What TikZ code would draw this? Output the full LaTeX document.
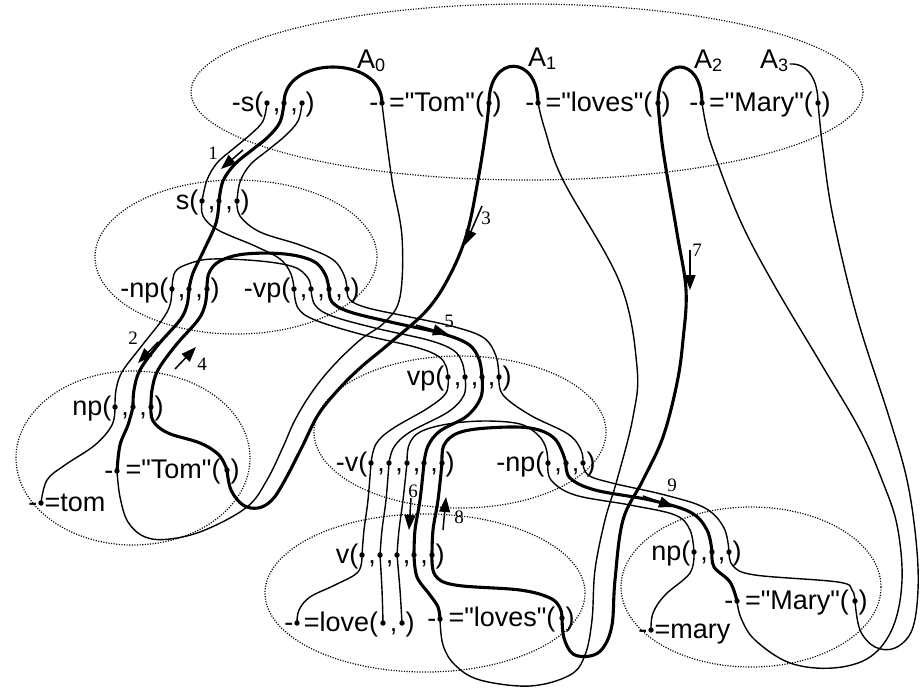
\documentclass[tikz,border=0pt]{standalone}
\usepackage{fontspec}
\setmainfont{Liberation Sans}[Ligatures=TeXOff]
\newfontfamily\numfont{Liberation Serif}
\usetikzlibrary{calc,arrows.meta}

\tikzset{
  lbl/.style={inner sep=0pt, font=\fontsize{27}{30}\selectfont},
  num/.style={inner sep=0pt, font=\numfont\fontsize{19}{21}\selectfont},
  wire/.style={line width=1.4pt, line cap=round, line join=round},
  heavy/.style={line width=3.1pt, line cap=round, line join=round},
  zone/.style={line width=1.2pt, dash pattern=on 1.1pt off 1.5pt},
  flow/.style={line width=1.5pt, -{Triangle[length=15pt,width=11pt]}},
}

% text placed just before, just after, or between argument dots
\newcommand\lbpre[3]{\node[lbl,anchor=base east] (#1) at ($(#2)+(-3.5,8)$) {#3};}
\newcommand\lbpost[3]{\node[lbl,anchor=base west] (#1) at ($(#2)+(3.5,8)$) {#3};}
\newcommand\lbmid[4]{\node[lbl,anchor=base] (#1) at ($(#2)!.5!(#3)+(1,8)$) {#4};}
% a smooth strand through a list of points
\newcommand\strand[2]{\draw[#1] plot[smooth,tension=.6] coordinates {#2};}
% a numbered step arrow
\newcommand\steparrow[5]{%
  \coordinate (#1s) at (#2); \coordinate (#1e) at (#3);
  \draw[flow] (#1s) -- (#1e);
  \node[num] (#1n) at (#4) {#5};}

\begin{document}
\begin{tikzpicture}[x=1pt,y=-1pt]
\fill[white] (0,0) rectangle (920,689);
\useasboundingbox (0,0) rectangle (920,689);

% ---- clause zones ----
\draw[zone] (527,92) ellipse [x radius=336, y radius=88];
\draw[zone] (236,257) ellipse [x radius=141, y radius=77];
\draw[zone] (133,458) ellipse [x radius=117, y radius=87];
\draw[zone] (460,432) ellipse [x radius=146, y radius=76];
\draw[zone] (425,593) ellipse [x radius=160, y radius=79];
\draw[zone] (751,587) ellipse [x radius=130, y radius=80];

% ---- argument ports ----
\coordinate (S1) at (267,103); \coordinate (S2) at (284,103); \coordinate (S3) at (302,103);
\coordinate (TA) at (382,103); \coordinate (TB) at (489,103);
\coordinate (LA) at (538,103); \coordinate (LB) at (658,103);
\coordinate (MA) at (702,103); \coordinate (MB) at (818,103);
\coordinate (s1) at (202,201); \coordinate (s2) at (219,201); \coordinate (s3) at (237,201);
\coordinate (na1) at (172,289); \coordinate (na2) at (189,289); \coordinate (na3) at (207,289);
\coordinate (va1) at (294,289); \coordinate (va2) at (311,289); \coordinate (va3) at (329,289); \coordinate (va4) at (347,289);
\coordinate (nh1) at (115,407); \coordinate (nh2) at (133,407); \coordinate (nh3) at (151,407);
\coordinate (ta) at (117,471); \coordinate (tb) at (227,470);
\coordinate (tm) at (41,503);
\coordinate (vh1) at (448,377); \coordinate (vh2) at (465,377); \coordinate (vh3) at (482,377); \coordinate (vh4) at (499,377);
\coordinate (vg1) at (371,463); \coordinate (vg2) at (389,463); \coordinate (vg3) at (407,463); \coordinate (vg4) at (424,463); \coordinate (vg5) at (442,463);
\coordinate (nb1) at (548,463); \coordinate (nb2) at (566,463); \coordinate (nb3) at (583,463);
\coordinate (wh1) at (362,555); \coordinate (wh2) at (380,555); \coordinate (wh3) at (397,555); \coordinate (wh4) at (414,555); \coordinate (wh5) at (432,555);
\coordinate (lv0) at (297,623); \coordinate (lv1) at (383,623); \coordinate (lv2) at (402,623);
\coordinate (la) at (440,619); \coordinate (lb) at (562,618);
\coordinate (mh1) at (694,552); \coordinate (mh2) at (712,552); \coordinate (mh3) at (729,552);
\coordinate (ma) at (737,601); \coordinate (mb) at (855,601);
\coordinate (my) at (651,630);

% ---- position labels ----
\node[lbl,anchor=base west] (A0) at (357,68) {A\raisebox{-3pt}{\fontsize{18}{20}\selectfont 0}};
\node[lbl,anchor=base west] (A1) at (528,66) {A\raisebox{-3pt}{\fontsize{18}{20}\selectfont 1}};
\node[lbl,anchor=base west] (A2) at (694,68) {A\raisebox{-3pt}{\fontsize{18}{20}\selectfont 2}};
\node[lbl,anchor=base west] (A3) at (760,68) {A\raisebox{-3pt}{\fontsize{18}{20}\selectfont 3}};
\coordinate (a3t) at (790,64);

% ---- top-level arcs ----
\draw[heavy] (S2) .. controls (284,55) and (382,55) .. (TA);
\draw[heavy] (TB) .. controls (489,54) and (538,54) .. (LA);
\draw[heavy] (LB) .. controls (658,55) and (702,55) .. (MA);
\draw[wire] (a3t) .. controls (808,63) and (818,80) .. (MB);

% ---- query to s clause ----
\strand{wire}{(S1) (263,121) (251,134) (233,149) (217,163) (207,180) (s1)}
\strand{heavy}{(S2) (280,122) (268,137) (252,150) (235,164) (223,181) (s2)}
\strand{wire}{(S3) (298,121) (285,136) (268,150) (250,165) (240,182) (s3)}

% ---- s clause body ----
\strand{wire}{(s1) (203,216) (218,230) (255,246) (280,259) (291,274) (va1)}
\strand{heavy}{(s2) (216,223) (204,250) (193,273) (na2)}
\strand{wire}{(s3) (240,216) (260,232) (300,245) (332,259) (344,275) (va4)}
\strand{wire}{(na1) (175,272) (188,264) (212,259) (260,261) (294,267) (308,278) (va2)}
\strand{heavy}{(na3) (209,273) (220,261) (245,254) (285,254) (313,261) (325,274) (va3)}

% ---- -vp to vp clause ----
\strand{wire}{(va1) (298,308) (315,320) (360,334) (415,347) (438,356) (446,366) (vh1)}
\strand{wire}{(va2) (315,305) (332,316) (375,328) (428,340) (453,350) (462,362) (vh2)}
\strand{heavy}{(va3) (332,302) (350,312) (395,323) (440,333) (468,344) (479,359) (vh3)}
\strand{wire}{(va4) (350,300) (368,308) (410,317) (455,327) (484,338) (496,356) (vh4)}

% ---- -np to np clause (Tom) ----
\strand{wire}{(na1) (170,305) (162,320) (140,348) (122,372) (116,390) (nh1)}
\strand{heavy}{(na2) (187,305) (180,320) (158,345) (140,370) (134,390) (nh2)}
\strand{heavy}{(na3) (205,305) (198,320) (176,345) (158,370) (152,390) (nh3)}
\strand{wire}{(nh1) (112,425) (95,445) (65,465) (47,480) (tm)}
\strand{heavy}{(nh2) (128,425) (120,445) (ta)}
\strand{heavy}{(nh3) (153,421) (168,433) (200,443) (219,455) (tb)}

% ---- word links A0, A1 ----
\strand{heavy}{(tb) (231,490) (243,505) (258,508) (272,500) (285,480) (302,447) (318,415) (338,390) (360,368) (390,343) (427,310) (450,275) (467,233) (478,180) (486,130) (TB)}
\strand{wire}{(TA) (384,120) (392,180) (402,237) (400,297) (385,322) (360,340) (333,366) (312,392) (295,420) (283,447) (267,480) (247,507) (205,530) (170,539) (145,537) (128,522) (120,497) (ta)}

% ---- word links A1, A2, A3 on the right ----
\strand{wire}{(LA) (545,130) (563,180) (620,283) (637,367) (633,417) (617,480) (605,520) (595,570) (592,620) (585,655) (570,675) (530,686) (480,680) (455,665) (443,645) (la)}
\strand{heavy}{(LB) (663,150) (677,233) (686,290) (683,340) (677,383) (663,437) (643,480) (623,520) (615,580) (612,625) (603,648) (590,656) (573,654) (564,638) (lb)}
\strand{wire}{(MA) (706,125) (713,150) (740,220) (773,283) (823,367) (860,430) (882,480) (897,525) (902,580) (893,627) (870,657) (833,668) (790,663) (755,640) (741,618) (ma)}
\strand{wire}{(MB) (823,150) (833,217) (857,317) (890,420) (907,480) (916,540) (918,590) (912,630) (895,648) (875,647) (860,630) (mb)}

% ---- vp clause body ----
\strand{wire}{(vh1) (446,393) (428,408) (392,429) (376,444) (vg1)}
\strand{wire}{(vh2) (464,395) (448,412) (410,432) (394,447) (vg2)}
\strand{heavy}{(vh3) (481,397) (467,416) (440,431) (428,446) (vg4)}
\strand{wire}{(vh4) (503,395) (530,415) (568,434) (581,450) (nb3)}
\strand{wire}{(vg3) (409,445) (420,432) (448,424) (485,421) (520,424) (538,435) (546,448) (nb1)}
\strand{heavy}{(vg5) (444,445) (458,433) (487,428) (530,428) (555,439) (nb2)}

% ---- -v to v clause ----
\strand{wire}{(vg1) (368,500) (364,530) (wh1)}
\strand{wire}{(vg2) (386,500) (382,530) (wh2)}
\strand{wire}{(vg3) (403,500) (399,530) (wh3)}
\strand{heavy}{(vg4) (420,500) (415,530) (wh4)}
\strand{heavy}{(vg5) (438,500) (433,530) (wh5)}
\strand{wire}{(wh1) (358,572) (335,585) (310,597) (299,610) (lv0)}
\strand{wire}{(wh2) (382,590) (lv1)}
\strand{wire}{(wh3) (400,590) (lv2)}
\strand{heavy}{(wh4) (417,577) (430,595) (438,607) (la)}
\strand{heavy}{(wh5) (435,575) (455,585) (520,590) (550,598) (560,608) (lb)}

% ---- -np to np clause (Mary) ----
\strand{wire}{(nb1) (551,480) (575,495) (630,505) (675,515) (690,530) (mh1)}
\strand{heavy}{(nb2) (570,478) (595,490) (650,500) (690,512) (707,530) (mh2)}
\strand{wire}{(nb3) (588,475) (612,483) (665,495) (705,508) (724,528) (mh3)}
\strand{wire}{(mh1) (690,573) (665,595) (653,613) (my)}
\strand{heavy}{(mh2) (714,567) (730,582) (ma)}
\strand{wire}{(mh3) (733,566) (755,575) (838,582) (852,590) (mb)}

% ---- ports ----
\foreach \p in {S1,S2,S3,TA,TB,LA,LB,MA,MB,s1,s2,s3,na1,na2,na3,va1,va2,va3,va4,
  nh1,nh2,nh3,ta,tb,tm,vh1,vh2,vh3,vh4,vg1,vg2,vg3,vg4,vg5,nb1,nb2,nb3,
  wh1,wh2,wh3,wh4,wh5,lv0,lv1,lv2,la,lb,mh1,mh2,mh3,ma,mb,my}
  \fill (\p) circle (2.7pt);

% ---- clause texts ----
\lbpre{tS}{S1}{-s(} \lbmid{tSc1}{S1}{S2}{,} \lbmid{tSc2}{S2}{S3}{,} \lbpost{tSe}{S3}{)}
\lbpre{tTm}{TA}{-} \lbmid{tTw}{TA}{TB}{="Tom"(} \lbpost{tTe}{TB}{)}
\lbpre{tLm}{LA}{-} \lbmid{tLw}{LA}{LB}{="loves"(} \lbpost{tLe}{LB}{)}
\lbpre{tMm}{MA}{-} \lbmid{tMw}{MA}{MB}{="Mary"(} \lbpost{tMe}{MB}{)}

\lbpre{ts}{s1}{s(} \lbmid{tsc1}{s1}{s2}{,} \lbmid{tsc2}{s2}{s3}{,} \lbpost{tse}{s3}{)}

\lbpre{tna}{na1}{-np(} \lbmid{tnac1}{na1}{na2}{,} \lbmid{tnac2}{na2}{na3}{,} \lbpost{tnae}{na3}{)}
\lbpre{tva}{va1}{-vp(} \lbmid{tvac1}{va1}{va2}{,} \lbmid{tvac2}{va2}{va3}{,} \lbmid{tvac3}{va3}{va4}{,} \lbpost{tvae}{va4}{)}

\lbpre{tnh}{nh1}{np(} \lbmid{tnhc1}{nh1}{nh2}{,} \lbmid{tnhc2}{nh2}{nh3}{,} \lbpost{tnhe}{nh3}{)}
\lbpre{ttm}{ta}{-} \lbmid{ttw}{ta}{tb}{="Tom"(} \lbpost{tte}{tb}{)}
\lbpre{ttm0}{tm}{-} \lbpost{ttom}{tm}{=tom}

\lbpre{tvh}{vh1}{vp(} \lbmid{tvhc1}{vh1}{vh2}{,} \lbmid{tvhc2}{vh2}{vh3}{,} \lbmid{tvhc3}{vh3}{vh4}{,} \lbpost{tvhe}{vh4}{)}
\lbpre{tvg}{vg1}{-v(} \lbmid{tvgc1}{vg1}{vg2}{,} \lbmid{tvgc2}{vg2}{vg3}{,} \lbmid{tvgc3}{vg3}{vg4}{,} \lbmid{tvgc4}{vg4}{vg5}{,} \lbpost{tvge}{vg5}{)}
\lbpre{tnb}{nb1}{-np(} \lbmid{tnbc1}{nb1}{nb2}{,} \lbmid{tnbc2}{nb2}{nb3}{,} \lbpost{tnbe}{nb3}{)}

\lbpre{twh}{wh1}{v(} \lbmid{twhc1}{wh1}{wh2}{,} \lbmid{twhc2}{wh2}{wh3}{,} \lbmid{twhc3}{wh3}{wh4}{,} \lbmid{twhc4}{wh4}{wh5}{,} \lbpost{twhe}{wh5}{)}
\lbpre{tlv0}{lv0}{-} \lbmid{tlvw}{lv0}{lv1}{=love(} \lbmid{tlvc}{lv1}{lv2}{,} \lbpost{tlve}{lv2}{)}
\lbpre{tla}{la}{-} \lbmid{tlaw}{la}{lb}{="loves"(} \lbpost{tlae}{lb}{)}

\lbpre{tmh}{mh1}{np(} \lbmid{tmhc1}{mh1}{mh2}{,} \lbmid{tmhc2}{mh2}{mh3}{,} \lbpost{tmhe}{mh3}{)}
\lbpre{tma}{ma}{-} \lbmid{tmaw}{ma}{mb}{="Mary"(} \lbpost{tmae}{mb}{)}
\lbpre{tmy0}{my}{-} \lbpost{tmy}{my}{=mary}

% ---- numbered steps ----
\steparrow{f1}{243,150}{221,169}{213,153}{1}
\steparrow{f2}{158,342}{138,363}{133,338}{2}
\steparrow{f3}{482,206}{465,245}{486,218}{3}
\steparrow{f4}{175,369}{196,347}{202,364}{4}
\steparrow{f5}{416,325}{448,334}{449,321}{5}
\steparrow{f6}{411,498}{409,530}{413,491}{6}
\steparrow{f7}{690,250}{690,290}{697,250}{7}
\steparrow{f8}{443,530}{446,497}{459,517}{8}
\steparrow{f9}{643,496}{674,507}{672,485}{9}

\end{tikzpicture}
\end{document}
